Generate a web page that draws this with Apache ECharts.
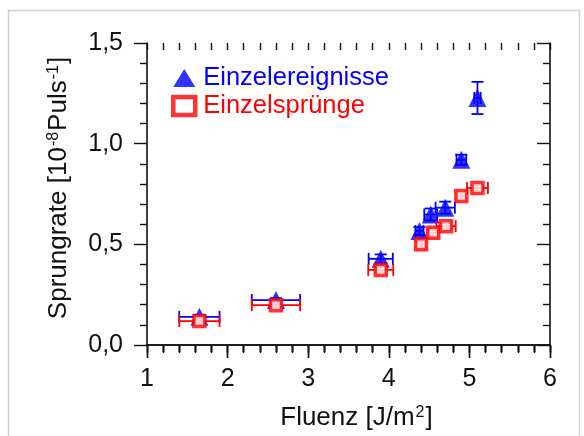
<!DOCTYPE html>
<html>
<head>
<meta charset="utf-8">
<script src="https://cdn.jsdelivr.net/npm/echarts@6/dist/echarts.min.js"></script>
<style>html,body{margin:0;padding:0;background:#fff;}#c{width:584px;height:436px;}</style>
</head>
<body>
<div id="c"></div>
<script>
// Data
const seriesNames = ['Einzelereignisse', 'Einzelsprünge'];
const blueX    = [1.65, 2.60, 3.90, 4.38, 4.52, 4.70, 4.90, 5.10];
const blueY    = [0.140, 0.223, 0.428, 0.566, 0.648, 0.682, 0.920, 1.227];
const blueXErr = [0.25, 0.30, 0.15, 0.05, 0.08, 0.12, 0.06, 0.04];
const blueYErr = [0.010, 0.010, 0.022, 0.020, 0.030, 0.030, 0.025, 0.080];
const redX     = [1.65, 2.60, 3.90, 4.40, 4.55, 4.71, 4.90, 5.10];
const redY     = [0.119, 0.198, 0.373, 0.500, 0.558, 0.590, 0.740, 0.780];
const redXErr  = [0.25, 0.30, 0.155, 0.05, 0.05, 0.12, 0.05, 0.13];
const redYErr  = [0.015, 0.015, 0.015, 0.015, 0.015, 0.015, 0.015, 0.015];
const xTickLabels = ['1', '2', '3', '4', '5', '6'];
const yTickLabels = ['0,0', '0,5', '1,0', '1,5'];

const BLUE = '#0000ff', RED = '#ff0000';
const FONT = 'Liberation Sans, Arial, sans-serif';

function pts(xs, ys, exs, eys) { return xs.map((x, i) => [x, ys[i], exs[i], eys[i]]); }

function errRender(color) {
  return function (params, api) {
    const x = api.value(0), y = api.value(1), ex = api.value(2), ey = api.value(3);
    const l = api.coord([x - ex, y]), r = api.coord([x + ex, y]);
    const t = api.coord([x, y + ey]), b = api.coord([x, y - ey]);
    const cap = 6;
    const st = () => ({ stroke: color, lineWidth: 1.8 });
    const ch = [
      { type: 'line', shape: { x1: l[0], y1: l[1], x2: r[0], y2: r[1] }, style: st() },
      { type: 'line', shape: { x1: l[0], y1: l[1] - cap, x2: l[0], y2: l[1] + cap }, style: st() },
      { type: 'line', shape: { x1: r[0], y1: r[1] - cap, x2: r[0], y2: r[1] + cap }, style: st() },
      { type: 'line', shape: { x1: t[0], y1: t[1], x2: b[0], y2: b[1] }, style: st() },
      { type: 'line', shape: { x1: t[0] - cap, y1: t[1], x2: t[0] + cap, y2: t[1] }, style: st() },
      { type: 'line', shape: { x1: b[0] - cap, y1: b[1], x2: b[0] + cap, y2: b[1] }, style: st() }
    ];
    return { type: 'group', children: ch };
  };
}

// fresh style objects for every axis
function axisLine() { return { show: true, lineStyle: { color: '#111', width: 1.6 } }; }
function majorTick(inside) { return { show: true, inside: inside, length: 13, lineStyle: { color: '#111', width: 1.4 } }; }
function minorTick() { return { show: true, splitNumber: 5, length: 7, lineStyle: { color: '#111', width: 1.4 } }; }

function mirrorAxis(pos, min, max, interval) {
  return {
    type: 'value', min: min, max: max, interval: interval, position: pos,
    axisLine: axisLine(), axisTick: majorTick(true), minorTick: minorTick(),
    splitLine: { show: false }, minorSplitLine: { show: false }, axisLabel: { show: false }
  };
}
// extra tick-only axis for the fine ticks
function fineAxis(pos, min, max, interval, inside) {
  return {
    type: 'value', min: min, max: max, interval: interval, position: pos,
    axisLine: { show: false },
    axisTick: { show: true, inside: inside, length: 7, lineStyle: { color: '#111', width: 1.4 } },
    splitLine: { show: false }, axisLabel: { show: false }
  };
}

const chart = echarts.init(document.getElementById('c'), null, { renderer: 'canvas' });
chart.setOption({
  animation: false,
  backgroundColor: '#fff',
  textStyle: { fontFamily: FONT },
  graphic: [{
    type: 'rect', shape: { x: 8.5, y: 10.5, width: 571, height: 440 },
    style: { fill: 'none', stroke: '#cfcfcf', lineWidth: 1.5 }, silent: true, z: -10
  }],
  grid: [
    { left: 147, right: 34, top: 43, bottom: 90 },
    // thin strip under the plot: its split lines form the outward fine ticks of the bottom axis
    { left: 147, right: 34, top: 346, height: 7 }
  ],
  legend: {
    orient: 'vertical', left: 171, top: 65, padding: 0, itemGap: 2,
    itemWidth: 22, itemHeight: 18,
    textStyle: { fontFamily: FONT, fontSize: 25.5, padding: [0, 0, 0, 3] },
    data: [
      { name: seriesNames[0], icon: 'triangle', textStyle: { color: BLUE },
        itemStyle: { color: BLUE, borderWidth: 0 } },
      { name: seriesNames[1], icon: 'rect', textStyle: { color: RED },
        itemStyle: { color: '#fff', borderColor: RED, borderWidth: 4.5 } }
    ]
  },
  xAxis: [{
    type: 'value', min: 1, max: 6, interval: 1, position: 'bottom',
    name: '{a|Fluenz [J/m}{s|2}{a|]}', nameLocation: 'middle', nameGap: 60,
    nameTextStyle: { padding: [0, 0, 0, 16], rich: {
      a: { fontFamily: FONT, fontSize: 26, color: '#111' },
      s: { fontFamily: FONT, fontSize: 16, color: '#111', verticalAlign: 'top', padding: [0, 1, 10, 1] } } },
    axisLine: axisLine(), axisTick: majorTick(false), minorTick: minorTick(),
    splitLine: { show: false }, minorSplitLine: { show: false },
    axisLabel: { margin: 22, fontFamily: FONT, fontSize: 25, color: '#111',
      formatter: v => xTickLabels[Math.round(v - 1)] }
  },
  mirrorAxis('top', 1, 6, 1),
  fineAxis('bottom', 1, 6, 0.2, false),
  fineAxis('top', 1, 6, 0.2, true),
  {
    gridIndex: 1, type: 'value', min: 1, max: 6, interval: 0.2, position: 'bottom',
    axisLine: { show: false }, axisTick: { show: false }, axisLabel: { show: false },
    splitLine: { show: true, lineStyle: { color: '#111', width: 1.4 } }
  }
  ],
  yAxis: [{
    type: 'value', min: 0, max: 1.5, interval: 0.5, position: 'left',
    name: '{a|Sprungrate [10}{s|-8}{a|Puls}{s|-1}{a|]}', nameLocation: 'middle', nameGap: 75, nameRotate: 90,
    nameTextStyle: { padding: [0, 0, 0, 12], rich: {
      a: { fontFamily: FONT, fontSize: 26, color: '#111' },
      s: { fontFamily: FONT, fontSize: 16, color: '#111', verticalAlign: 'top', padding: [0, 1, 10, 1] } } },
    axisLine: axisLine(), axisTick: majorTick(false), minorTick: minorTick(),
    splitLine: { show: false }, minorSplitLine: { show: false },
    axisLabel: { margin: 24, fontFamily: FONT, fontSize: 25, color: '#111',
      formatter: v => yTickLabels[Math.round(v / 0.5)] }
  },
  mirrorAxis('right', 0, 1.5, 0.5),
  {
    gridIndex: 1, type: 'value', min: 0, max: 1, show: false,
    axisLine: { show: false }, axisTick: { show: false }, axisLabel: { show: false }, splitLine: { show: false }
  }
  ],
  series: [
    { type: 'custom', name: seriesNames[0] + ' err', renderItem: errRender(BLUE),
      data: pts(blueX, blueY, blueXErr, blueYErr), z: 3, silent: true },
    { type: 'scatter', name: seriesNames[0], symbol: 'triangle', symbolSize: 18,
      itemStyle: { color: BLUE }, data: blueX.map((x, i) => [x, blueY[i]]), z: 4 },
    { type: 'custom', name: seriesNames[1] + ' err', renderItem: errRender(RED),
      data: pts(redX, redY, redXErr, redYErr), z: 5, silent: true },
    { type: 'scatter', name: seriesNames[1], symbol: 'rect', symbolSize: 11,
      itemStyle: { color: '#fff', borderColor: RED, borderWidth: 3.5 },
      data: redX.map((x, i) => [x, redY[i]]), z: 6 }
  ]
});
</script>
</body>
</html>
